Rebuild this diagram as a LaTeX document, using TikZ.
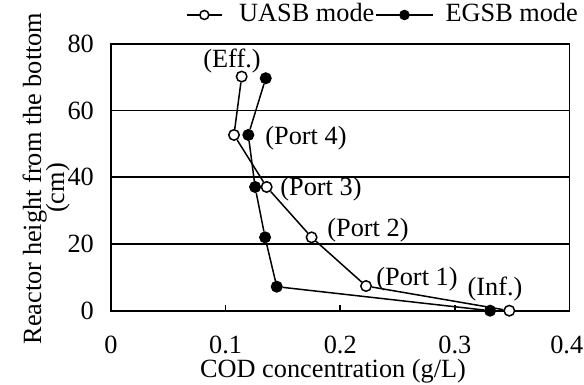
\documentclass[tikz,border=0pt]{standalone}
\usepackage{fontspec}
\setmainfont{Liberation Serif}
\usetikzlibrary{calc}
\begin{document}
\begin{tikzpicture}[x=1pt,y=1pt,
  lbl/.style={inner sep=0pt, font=\fontsize{26.3}{30}\selectfont},
  frame/.style={line width=1.9pt},
  grid/.style={line width=1.7pt},
  dline/.style={line width=1.5pt},
  omark/.style={circle, draw, line width=1.5pt, fill=white, minimum size=10.5pt, inner sep=0pt},
  fmark/.style={circle, draw, line width=1.5pt, fill=black, minimum size=10.5pt, inner sep=0pt},
  lomark/.style={omark, minimum size=9pt},
  lfmark/.style={fmark, minimum size=9pt}]
\useasboundingbox (0,0) rectangle (584,385);

% axis titles
\node[lbl, rotate=90, anchor=base] (ytitle) at (41,206.5) {Reactor height from the bottom};
\node[lbl, rotate=90, anchor=base] (yunit) at (64,197) {(cm)};
\node[lbl, anchor=base] (xtitle) at (333,7) {COD concentration (g/L)};

% legend
\coordinate (l1a) at (186.7,370);
\coordinate (l1b) at (222,370);
\node[lbl, anchor=base west] (leg1) at (239,363) {UASB mode};
\node[lbl, anchor=base east] (leg2) at (578,363) {EGSB mode};
\coordinate (l2a) at ($(leg1.east |- l1a)+(1,0)$);
\coordinate (l2b) at ($(leg2.west |- l1a)+(-12,0)$);
\draw[dline] (l1a) -- (l1b);
\draw[dline] (l2a) -- (l2b);
\node[lomark] (lm1) at ($(l1a)!0.5!(l1b)$) {};
\node[lfmark] (lm2) at ($(l2a)!0.5!(l2b)$) {};

\begin{scope}[shift={(111,74.3)}, x=1146.25pt, y=3.335pt]
  % gridlines and frame
  \foreach \h in {20,40,60} {
    \draw[grid] (0,\h) -- (0.4,\h);
  }
  \draw[frame] (0,0) rectangle (0.4,80);
  \foreach \c in {0.1,0.2,0.3} {
    \draw[grid] (\c,0) -- (\c,1.6);
  }
  % tick labels
  \foreach \h in {0,20,40,60,80} {
    \node[lbl, anchor=east] (yl\h) at (-0.0148,\h) {\h};
  }
  \foreach \c/\t in {0/0,0.1/0.1,0.2/0.2,0.3/0.3,0.3976/0.4} {
    \node[lbl, anchor=base] at (\c,-12.75) {\t};
  }

  % EGSB data
  \node[fmark] (e1) at (0.3307,0) {};
  \node[fmark] (e2) at (0.1446,7.2) {};
  \node[fmark] (e3) at (0.1344,22) {};
  \node[fmark] (e4) at (0.1257,37.1) {};
  \node[fmark] (e5) at (0.1198,52.7) {};
  \node[fmark] (e6) at (0.135,69.7) {};
  \draw[dline] (e1) -- (e2) -- (e3) -- (e4) -- (e5) -- (e6);

  % UASB data
  \node[omark] (u1) at (0.3475,0) {};
  \node[omark] (u2) at (0.2225,7.4) {};
  \node[omark] (u3) at (0.175,22) {};
  \node[omark] (u4) at (0.1358,37.1) {};
  \node[omark] (u5) at (0.1073,52.7) {};
  \node[omark] (u6) at (0.114,70.2) {};
  \draw[dline] (u1) -- (u2) -- (u3) -- (u4) -- (u5) -- (u6);
\end{scope}

% point labels
\node[lbl] (leff) at (232,324) {(Eff.)};
\node[lbl] (lp4) at (306,247) {(Port 4)};
\node[lbl] (lp3) at (321,196) {(Port 3)};
\node[lbl] (lp2) at (368,155) {(Port 2)};
\node[lbl] (lp1) at (417,106) {(Port 1)};
\node[lbl] (linf) at (495,96) {(Inf.)};
\end{tikzpicture}
\end{document}
